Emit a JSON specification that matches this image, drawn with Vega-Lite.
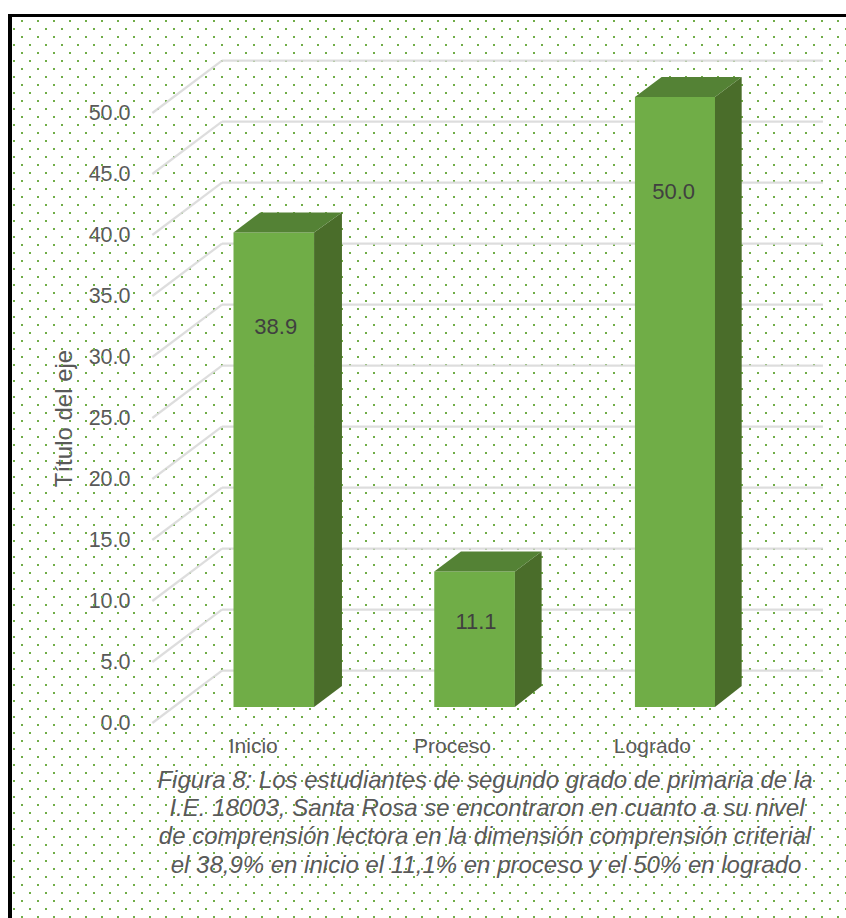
{"$schema":"https://vega.github.io/schema/vega-lite/v6.json","width":602,"height":610,"padding":{"left":174,"right":70,"top":113,"bottom":195},"autosize":{"type":"none"},"background":"#ffffff","config":{"view":{"stroke":null},"font":"Liberation Sans"},"resolve":{"scale":{"x":"independent","y":"independent"},"axis":{"x":"independent","y":"independent"}},"layer":[
{"data":{"values":[{"xs":[22,38,54,70,86,102,118,134,150,166,182,198,214,230,246,262,278,294,310,326,342,358,374,390,406,422,438,454,470,486,502,518,534,550,566,582,598,614,630,646,662,678,694,710,726,742,758,774,790,806,822,838],"ys":[21,37,53,69,85,101,117,133,149,165,181,197,213,229,245,261,277,293,309,325,341,357,373,389,405,421,437,453,469,485,501,517,533,549,565,581,597,613,629,645,661,677,693,709,725,741,757,773,789,805,821,837,853,869,885,901,917]},{"xs":[14,30,46,62,78,94,110,126,142,158,174,190,206,222,238,254,270,286,302,318,334,350,366,382,398,414,430,446,462,478,494,510,526,542,558,574,590,606,622,638,654,670,686,702,718,734,750,766,782,798,814,830,846],"ys":[29,45,61,77,93,109,125,141,157,173,189,205,221,237,253,269,285,301,317,333,349,365,381,397,413,429,445,461,477,493,509,525,541,557,573,589,605,621,637,653,669,685,701,717,733,749,765,781,797,813,829,845,861,877,893,909]}]},"transform":[{"flatten":["xs"]},{"flatten":["ys"]}],"mark":{"type":"point","shape":"square","filled":true,"size":4,"opacity":1,"color":"#70AD47","clip":false},"encoding":{"x":{"field":"xs","type":"quantitative","axis":null,"scale":{"domain":[174,776],"range":[0,602]}},"y":{"field":"ys","type":"quantitative","axis":null,"scale":{"domain":[113,723],"range":[0,610]}}}},
{"data":{"values":[{"x":8,"x2":846,"y":14,"y2":17},{"x":8,"x2":12,"y":14,"y2":918}]},"mark":{"type":"rect","color":"#000000"},"encoding":{"x":{"field":"x","type":"quantitative","axis":null,"scale":{"domain":[174,776],"range":[0,602]}},"x2":{"field":"x2"},"y":{"field":"y","type":"quantitative","axis":null,"scale":{"domain":[113,723],"range":[0,610]}},"y2":{"field":"y2"}}},
{"data":{"values":[{"t":"Figura 8: Los estudiantes de segundo grado de primaria de la","x":485,"y":781},{"t":"I.E. 18003, Santa Rosa se encontraron en cuanto a su nivel","x":487,"y":809},{"t":"de comprensión lectora en la dimensión comprensión criterial","x":485,"y":837},{"t":"el 38,9% en inicio el 11,1% en proceso y el 50% en logrado","x":486,"y":866}]},"mark":{"type":"text","font":"Liberation Sans","fontSize":24,"fontStyle":"italic","color":"#595959","align":"center","baseline":"middle"},"encoding":{"text":{"field":"t"},"x":{"field":"x","type":"quantitative","axis":null,"scale":{"domain":[174,776],"range":[0,602]}},"y":{"field":"y","type":"quantitative","axis":null,"scale":{"domain":[113,723],"range":[0,610]}}}},
{"layer":[
{"data":{"name":"grid","values":[{"v":0,"b":4.3},{"v":5,"b":9.3},{"v":10,"b":14.3},{"v":15,"b":19.3},{"v":20,"b":24.3},{"v":25,"b":29.3},{"v":30,"b":34.3},{"v":35,"b":39.3},{"v":40,"b":44.3},{"v":45,"b":49.3},{"v":50,"b":54.3}]},"mark":{"type":"rule","color":"#D9D9D9","strokeWidth":2.2,"opacity":0.9},"encoding":{"x":{"datum":-0.108,"type":"quantitative","scale":{"domain":[0,3],"range":[0,602]},"axis":null},"x2":{"datum":0.239},"y":{"field":"v","type":"quantitative","scale":{"domain":[0,50],"range":[610,0]},"axis":{"values":[0,5,10,15,20,25,30,35,40,45,50],"format":".1f","title":"Título del eje","domain":false,"ticks":false,"grid":false,"labelFont":"Liberation Sans","labelFontSize":21.5,"labelColor":"#595959","labelPadding":44,"titleFont":"Liberation Sans","titleFontSize":24,"titleFontWeight":"normal","titleColor":"#595959","titlePadding":12}},"y2":{"field":"b"}}},
{"data":{"name":"grid2","values":[{"b":4.3},{"b":9.3},{"b":14.3},{"b":19.3},{"b":24.3},{"b":29.3},{"b":34.3},{"b":39.3},{"b":44.3},{"b":49.3},{"b":54.3}]},"mark":{"type":"rule","color":"#D9D9D9","strokeWidth":2.2,"opacity":0.9},"encoding":{"x":{"datum":0.239,"type":"quantitative"},"x2":{"datum":3.234},"y":{"field":"b","type":"quantitative"}}},
{"data":{"name":"frentes","values":[{"nivel":"Inicio","valor":38.9,"izq":0.2965,"der":0.698},{"nivel":"Proceso","valor":11.1,"izq":1.297,"der":1.699},{"nivel":"Logrado","valor":50.0,"izq":2.297,"der":2.696}]},"mark":{"type":"rect","color":"#70AD47","yOffset":-16,"y2Offset":-16},"encoding":{"x":{"field":"izq","type":"quantitative"},"x2":{"field":"der"},"y":{"field":"valor","type":"quantitative"},"y2":{"datum":0}}},
{"data":{"name":"lados","values":[{"nivel":"Inicio","x":0.698,"y":38.9,"y0":0},{"nivel":"Inicio","x":0.837,"y":40.54,"y0":1.72},{"nivel":"Proceso","x":1.699,"y":11.1,"y0":0},{"nivel":"Proceso","x":1.832,"y":12.74,"y0":1.72},{"nivel":"Logrado","x":2.696,"y":50,"y0":0},{"nivel":"Logrado","x":2.829,"y":51.64,"y0":1.72}]},"mark":{"type":"area","color":"#4A6D2A","yOffset":-16,"y2Offset":-16,"opacity":1},"encoding":{"detail":{"field":"nivel"},"x":{"field":"x","type":"quantitative"},"y":{"field":"y","type":"quantitative"},"y2":{"field":"y0"}}},
{"data":{"name":"tapas","values":[{"nivel":"Inicio","x":0.2965,"x1":0.698,"y":38.9},{"nivel":"Inicio","x":0.4295,"x1":0.837,"y":40.54},{"nivel":"Proceso","x":1.297,"x1":1.699,"y":11.1},{"nivel":"Proceso","x":1.43,"x1":1.832,"y":12.74},{"nivel":"Logrado","x":2.297,"x1":2.696,"y":50},{"nivel":"Logrado","x":2.43,"x1":2.829,"y":51.64}]},"mark":{"type":"area","orient":"horizontal","color":"#548235","yOffset":-16,"opacity":1},"encoding":{"detail":{"field":"nivel"},"x":{"field":"x","type":"quantitative"},"x2":{"field":"x1"},"y":{"field":"y","type":"quantitative"}}},
{"data":{"name":"etiquetas","values":[{"valor":38.9,"x":0.507,"y":32.48},{"valor":11.1,"x":1.505,"y":8.25},{"valor":50.0,"x":2.49,"y":43.55}]},"mark":{"type":"text","font":"Liberation Sans","fontSize":22,"color":"#404040","align":"center","baseline":"middle"},"encoding":{"text":{"field":"valor","type":"quantitative","format":".1f"},"x":{"field":"x","type":"quantitative"},"y":{"field":"y","type":"quantitative"}}},
{"data":{"name":"categorias","values":[{"nivel":"Inicio","x":0.395,"y":-2},{"nivel":"Proceso","x":1.388,"y":-2},{"nivel":"Logrado","x":2.384,"y":-2}]},"mark":{"type":"text","font":"Liberation Sans","fontSize":21,"color":"#595959","align":"center","baseline":"middle"},"encoding":{"text":{"field":"nivel"},"x":{"field":"x","type":"quantitative"},"y":{"field":"y","type":"quantitative"}}}
]}
]}
